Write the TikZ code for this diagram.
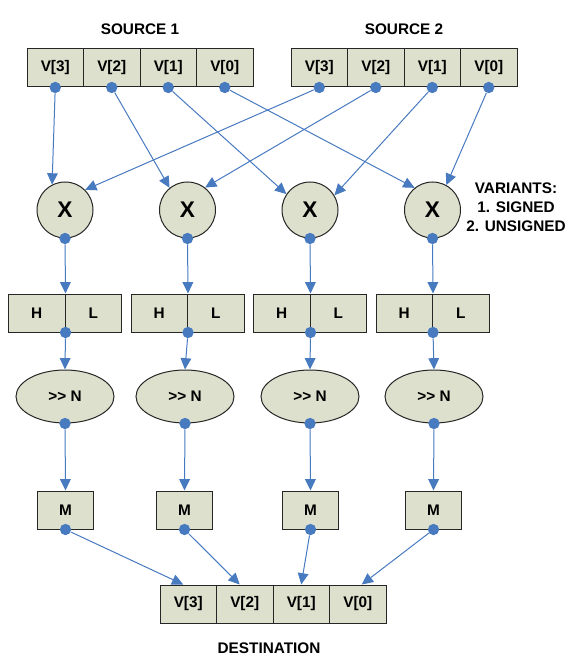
\documentclass[tikz,border=0pt]{standalone}
\usepackage{fontspec}
\setmainfont{Liberation Sans}
\usetikzlibrary{calc,arrows.meta,shapes.geometric}
\definecolor{boxfill}{RGB}{221,224,204}
\definecolor{wireblue}{RGB}{72,122,192}
\tikzset{
	cell/.style={draw=black!85, fill=boxfill, line width=0.75pt, minimum width=42.375pt, minimum height=28.5pt, inner sep=0pt, font=\fontsize{11.5}{13}\selectfont\bfseries},
	mul/.style={circle, draw=black!85, fill=boxfill, line width=0.75pt, minimum size=42pt, inner sep=0pt, font=\fontsize{17}{18}\selectfont\bfseries},
	oval/.style={ellipse, draw=black!85, fill=boxfill, line width=0.75pt, minimum width=73.5pt, minimum height=39.75pt, inner sep=0pt, font=\fontsize{11.5}{13}\selectfont\bfseries},
	dot/.style={circle, fill=wireblue, minimum size=8.5pt, inner sep=0pt},
	wire/.style={draw=wireblue, line width=0.75pt, -{Triangle[length=8.5pt,width=8pt]}},
	title/.style={font=\fontsize{11.5}{14.25}\selectfont\bfseries, align=center}
}
\newcommand{\shr}{>\kern0pt>}

\begin{document}
\begin{tikzpicture}[x=0.75pt, y=-0.75pt]
			%%%%% START %%%%%
			\useasboundingbox (0,0) rectangle (576,666);
			
			\node[title] (src1) at (140,29) {SOURCE 1};
			\node[title] (src2) at (404,29) {SOURCE 2};
			\node[title] (dst) at (269,648) {DESTINATION};
			\node[title] (variants) at (516,207) {VARIANTS:\\1. SIGNED\\2. UNSIGNED};
			
			% source 1
			\node[cell] (a3) at (55.25,68) {V[3]};
			\node[cell] (a2) at (111.75,68) {V[2]};
			\node[cell] (a1) at (168.25,68) {V[1]};
			\node[cell] (a0) at (224.75,68) {V[0]};
			
			% source 2
			\node[cell] (b3) at (319.25,68) {V[3]};
			\node[cell] (b2) at (375.75,68) {V[2]};
			\node[cell] (b1) at (432.25,68) {V[1]};
			\node[cell] (b0) at (488.75,68) {V[0]};
			
			% multipliers
			\node[mul] (c1) at (65,210) {X};
			\node[mul] (c2) at (187.5,210) {X};
			\node[mul] (c3) at (310,210) {X};
			\node[mul] (c4) at (432.5,210) {X};
			
			% high / low halves
			\node[cell] (h1) at (36.75,313) {H};
			\node[cell] (l1) at (93.25,313) {L};
			\node[cell] (h2) at (159.25,313) {H};
			\node[cell] (l2) at (215.75,313) {L};
			\node[cell] (h3) at (281.75,313) {H};
			\node[cell] (l3) at (338.25,313) {L};
			\node[cell] (h4) at (404.25,313) {H};
			\node[cell] (l4) at (460.75,313) {L};
			
			% shifts
			\node[oval] (o1) at (65,396.5) {\shr{} N};
			\node[oval] (o2) at (185,396.5) {\shr{} N};
			\node[oval] (o3) at (310,396.5) {\shr{} N};
			\node[oval] (o4) at (434,396.5) {\shr{} N};
			
			\node[cell] (m1) at (65.5,510) {M};
			\node[cell] (m2) at (184.5,510) {M};
			\node[cell] (m3) at (310.5,510) {M};
			\node[cell] (m4) at (433.5,510) {M};
			
			% destination
			\node[cell] (d3) at (188.25,604) {V[3]};
			\node[cell] (d2) at (244.75,604) {V[2]};
			\node[cell] (d1) at (301.25,604) {V[1]};
			\node[cell] (d0) at (357.75,604) {V[0]};
			
			% connection dots
			\node[dot] (pa3) at (a3.south) {};
			\node[dot] (pa2) at (a2.south) {};
			\node[dot] (pa1) at (a1.south) {};
			\node[dot] (pa0) at (a0.south) {};
			\node[dot] (pb3) at (b3.south) {};
			\node[dot] (pb2) at (b2.south) {};
			\node[dot] (pb1) at (b1.south) {};
			\node[dot] (pb0) at (b0.south) {};
			\node[dot] (pc1) at (c1.south) {};
			\node[dot] (pc2) at (c2.south) {};
			\node[dot] (pc3) at (c3.south) {};
			\node[dot] (pc4) at (c4.south) {};
			\node[dot] (ph1) at (h1.south east) {};
			\node[dot] (ph2) at (h2.south east) {};
			\node[dot] (ph3) at (h3.south east) {};
			\node[dot] (ph4) at (h4.south east) {};
			\node[dot] (po1) at (o1.south) {};
			\node[dot] (po2) at (o2.south) {};
			\node[dot] (po3) at (o3.south) {};
			\node[dot] (po4) at (o4.south) {};
			\node[dot] (pm1) at (m1.south) {};
			\node[dot] (pm2) at (m2.south) {};
			\node[dot] (pm3) at (m3.south) {};
			\node[dot] (pm4) at (m4.south) {};
			
			% sources to multipliers
			\draw[wire] (pa3) -- (c1.117);
			\draw[wire] (pb3) -- (c1.45);
			\draw[wire] (pa2) -- (c2.129);
			\draw[wire] (pb2) -- (c2.52);
			\draw[wire] (pa1) -- (c3.146);
			\draw[wire] (pb1) -- (c3.31);
			\draw[wire] (pa0) -- (c4.129);
			\draw[wire] (pb0) -- (c4.61);
			
			% columns
			\draw[wire] (pc1) -- (h1.north east);
			\draw[wire] (pc2) -- (h2.north east);
			\draw[wire] (pc3) -- (h3.north east);
			\draw[wire] (pc4) -- (h4.north east);
			
			\draw[wire] (ph1) -- (o1.north);
			\draw[wire] (ph2) -- (o2.north);
			\draw[wire] (ph3) -- (o3.north);
			\draw[wire] (ph4) -- (o4.north);
			
			\draw[wire] (po1) -- (m1.north);
			\draw[wire] (po2) -- (m2.north);
			\draw[wire] (po3) -- (m3.north);
			\draw[wire] (po4) -- (m4.north);
			
			% into destination
			\draw[wire] (pm1) -- ($(d3.north)+(-5,0)$);
			\draw[wire] (pm2) -- ($(d2.north)+(-5,0)$);
			\draw[wire] (pm3) -- (d1.north);
			\draw[wire] (pm4) -- ($(d0.north)+(4,0)$);
			
			%%%%% END %%%%%
\end{tikzpicture}
\end{document}
